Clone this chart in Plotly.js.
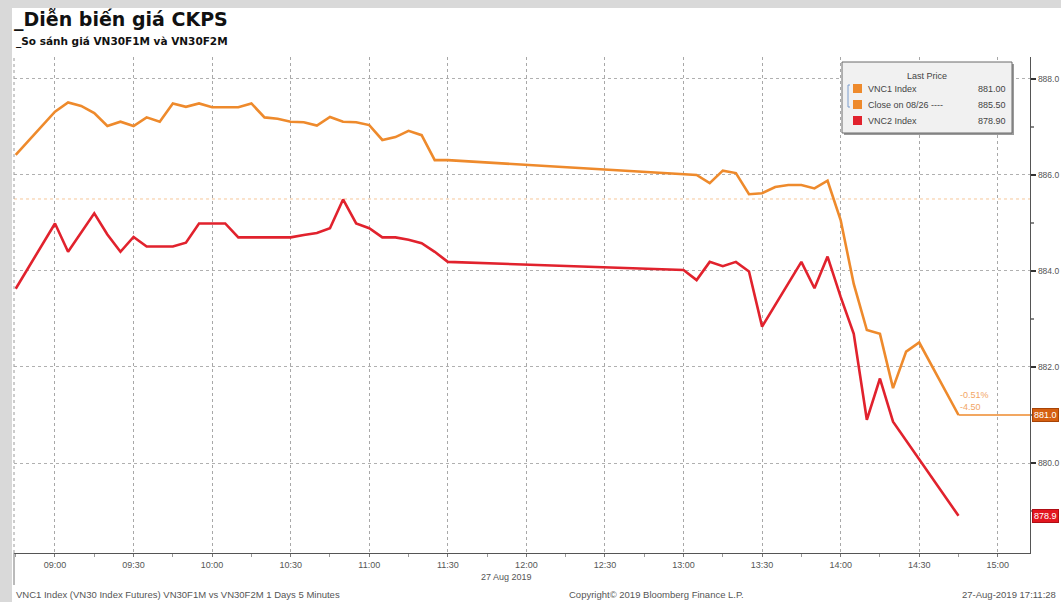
<!DOCTYPE html>
<html>
<head>
<meta charset="utf-8">
<script src="https://cdn.plot.ly/plotly-3.0.1.min.js"></script>
<style>
  html, body { margin: 0; padding: 0; background: #d9d9d9; width: 1061px; height: 602px; overflow: hidden; }
  #chart { position: absolute; left: 12px; top: 8px; width: 1049px; height: 594px; background: #ffffff; }
</style>
</head>
<body>
<div id="chart"></div>
<script>
// VNC1 (VN30F1M) intraday prices, 27 Aug 2019
const day = '2019-08-27';
const vnc1Times = ['08:45','09:00','09:05','09:10','09:15','09:20','09:25','09:30','09:35','09:40','09:45','09:50','09:55','10:00','10:10','10:15','10:20','10:25','10:30','10:35','10:40','10:45','10:50','10:55','11:00','11:05','11:10','11:15','11:20','11:25','11:30',
                   '13:00','13:05','13:10','13:15','13:20','13:25','13:30','13:35','13:40','13:45','13:50','13:55','14:00','14:05','14:10','14:15','14:20','14:25','14:30','14:45'];
const vnc1Values = [886.42,887.32,887.51,887.44,887.29,887.02,887.11,887.02,887.20,887.11,887.49,887.42,887.49,887.41,887.41,887.49,887.20,887.17,887.11,887.10,887.03,887.21,887.11,887.10,887.04,886.73,886.79,886.92,886.83,886.31,886.31,
                    886.03,886.00,885.83,886.09,886.04,885.60,885.62,885.75,885.79,885.79,885.72,885.88,885.06,883.73,882.77,882.69,881.56,882.32,882.51,881.00];

// VNC2 (VN30F2M) intraday prices
const vnc2Times = ['08:45','09:00','09:05','09:15','09:20','09:25','09:30','09:35','09:40','09:45','09:50','09:55','10:00','10:05','10:10','10:30','10:35','10:40','10:45','10:50','10:55','11:00','11:05','11:10','11:15','11:20','11:25','11:30',
                   '13:00','13:05','13:10','13:15','13:20','13:25','13:30','13:45','13:50','13:55','14:00','14:05','14:10','14:15','14:20','14:45'];
const vnc2Values = [883.63,884.99,884.40,885.20,884.76,884.40,884.71,884.51,884.51,884.51,884.59,884.99,884.99,884.99,884.70,884.70,884.75,884.79,884.89,885.49,884.99,884.89,884.70,884.70,884.65,884.58,884.40,884.19,
                    884.02,883.81,884.19,884.10,884.19,883.99,882.84,884.19,883.64,884.30,883.46,882.69,880.90,881.76,880.86,878.90];

// Previous session close of VNC1 (08/26)
const prevClose = 885.50;
const closeDateLabel = '08/26';

const seriesNames = ['VNC1 Index', 'Close on ' + closeDateLabel, 'VNC2 Index'];
const tickValues = [880, 882, 884, 886, 888];

const ORANGE = '#ee8a2c';
const RED = '#e1222d';

const toDate = t => day + ' ' + t;
const xs1 = vnc1Times.map(toDate);
const xs2 = vnc2Times.map(toDate);

const xStart = day + ' 08:44:21';
const xEnd = day + ' 15:12:18';

// page-pixel to paper conversion (plot area spans 14..1030 x 57..553 on the page)
const px = p => (p - 14) / 1016;
const py = p => (553 - p) / 496;

const last1 = vnc1Values[vnc1Values.length - 1];
const last2 = vnc2Values[vnc2Values.length - 1];
const chg = last1 - prevClose;
const chgPct = chg / prevClose * 100;

const tickFont = { family: 'Liberation Sans, Arial, sans-serif', size: 9, color: '#555' };
const legFont = { family: 'Liberation Sans, Arial, sans-serif', size: 9, color: '#444' };

const traces = [
  { x: xs2, y: vnc2Values, type: 'scatter', mode: 'lines', name: seriesNames[2],
    line: { color: RED, width: 2.6 }, hoverinfo: 'x+y' },
  { x: xs1, y: vnc1Values, type: 'scatter', mode: 'lines', name: seriesNames[0],
    line: { color: ORANGE, width: 2.6 }, hoverinfo: 'x+y' }
];

const shapes = [
  // previous close reference line
  { type: 'line', xref: 'paper', x0: 0, x1: 1, yref: 'y', y0: prevClose, y1: prevClose,
    line: { color: '#f6c79a', width: 1, dash: 'dot' }, layer: 'below' },
  // last price carried to the axis
  { type: 'line', xref: 'x', x0: xs1[xs1.length - 1], x1: xEnd, yref: 'y', y0: last1, y1: last1,
    line: { color: ORANGE, width: 1.5 } },
  // left frame (dotted) and its extension down to the footer
  { type: 'line', xref: 'paper', x0: 0, x1: 0, yref: 'paper', y0: 0, y1: 1,
    line: { color: '#9a9a9a', width: 1, dash: 'dot' } },
  { type: 'line', xref: 'paper', x0: 0, x1: 0, yref: 'paper', y0: py(585), y1: 0,
    line: { color: '#777', width: 1 } },
  // legend panel with shadow
  { type: 'rect', xref: 'paper', yref: 'paper', x0: px(844), x1: px(1014), y0: py(135), y1: py(64),
    fillcolor: '#9a9a9a', line: { width: 0 } },
  { type: 'rect', xref: 'paper', yref: 'paper', x0: px(842), x1: px(1012), y0: py(133), y1: py(62),
    fillcolor: '#f1f1f1', line: { color: '#6a6a6a', width: 1 } },
  // colour keys
  { type: 'rect', xref: 'paper', yref: 'paper', x0: px(853), x1: px(862), y0: py(93), y1: py(84),
    fillcolor: ORANGE, line: { width: 0 } },
  { type: 'rect', xref: 'paper', yref: 'paper', x0: px(853), x1: px(862), y0: py(109), y1: py(100),
    fillcolor: ORANGE, line: { width: 0 } },
  { type: 'rect', xref: 'paper', yref: 'paper', x0: px(853), x1: px(862), y0: py(125), y1: py(116),
    fillcolor: RED, line: { width: 0 } },
  // bracket grouping the first two keys
  { type: 'path', xref: 'paper', yref: 'paper',
    path: 'M ' + px(850) + ',' + py(85) + ' L ' + px(848) + ',' + py(85) + ' L ' + px(848) + ',' + py(107) + ' L ' + px(850) + ',' + py(107),
    line: { color: '#7a9ccc', width: 1 } }
];

const ann = (x, y, text, opts) => Object.assign({ xref: 'paper', yref: 'paper', x: px(x), y: py(y), text: text,
  showarrow: false, xanchor: 'left', yanchor: 'middle', font: legFont }, opts || {});

const annotations = [
  ann(14, 42, '<b>_So sánh giá VN30F1M và VN30F2M</b>', { font: { family: 'DejaVu Sans, Verdana, sans-serif', size: 10.5, color: '#111' } }),
  ann(927, 76, 'Last Price', { xanchor: 'center' }),
  ann(866, 89, seriesNames[0]),
  ann(866, 105, seriesNames[1] + ' ----'),
  ann(866, 121, seriesNames[2]),
  ann(1008, 89, last1.toFixed(2), { xanchor: 'right' }),
  ann(1008, 105, prevClose.toFixed(2), { xanchor: 'right' }),
  ann(1008, 121, last2.toFixed(2), { xanchor: 'right' }),
  // change vs previous close
  { xref: 'x', yref: 'y', x: xs1[xs1.length - 1], y: last1, xanchor: 'left', yanchor: 'bottom', yshift: 1, xshift: -1,
    text: chgPct.toFixed(2) + '%<br>' + chg.toFixed(2), showarrow: false, align: 'left',
    font: { family: 'Liberation Sans, Arial, sans-serif', size: 9, color: '#f2a565' } },
  // last price tags on the value axis
  { xref: 'paper', yref: 'y', x: 1, xshift: 2, y: last1, xanchor: 'left', yanchor: 'middle', text: last1.toFixed(1),
    showarrow: false, bgcolor: '#d55f10', bordercolor: '#a84406', borderwidth: 1, borderpad: 1,
    font: { family: 'Liberation Sans, Arial, sans-serif', size: 9, color: '#ffffff' } },
  { xref: 'paper', yref: 'y', x: 1, xshift: 2, y: last2, xanchor: 'left', yanchor: 'middle', text: last2.toFixed(1),
    showarrow: false, bgcolor: '#e2161f', bordercolor: '#b00d14', borderwidth: 1, borderpad: 1,
    font: { family: 'Liberation Sans, Arial, sans-serif', size: 9, color: '#ffffff' } },
  // date under the time axis
  ann(506, 577, '27 Aug 2019', { xanchor: 'center', font: tickFont }),
  // footer
  ann(14, 594, 'VNC1 Index (VN30 Index Futures) VN30F1M vs VN30F2M 1 Days 5 Minutes', { font: { family: 'Liberation Sans, Arial, sans-serif', size: 9.5, color: '#555' } }),
  ann(567, 594, 'Copyright© 2019 Bloomberg Finance L.P.', { font: { family: 'Liberation Sans, Arial, sans-serif', size: 9.5, color: '#555' } }),
  ann(960, 594, '27-Aug-2019 17:11:28', { font: { family: 'Liberation Sans, Arial, sans-serif', size: 9.5, color: '#555' } })
];

const layout = {
  width: 1049, height: 594,
  margin: { l: 2, r: 31, t: 49, b: 49, pad: 0 },
  paper_bgcolor: '#ffffff', plot_bgcolor: '#ffffff',
  showlegend: false,
  title: { text: '<b>_Diễn biến giá CKPS</b>', xref: 'container', yref: 'container',
    x: 2 / 1049, xanchor: 'left', y: 1 - 5 / 594, yanchor: 'top',
    font: { family: 'DejaVu Sans, Verdana, sans-serif', size: 19, color: '#111' } },
  xaxis: {
    type: 'date', range: [xStart, xEnd],
    tickformat: '%H:%M', dtick: 30 * 60 * 1000, tick0: day + ' 09:00',
    ticks: 'outside', ticklen: 3, tickcolor: '#777',
    showgrid: true, gridcolor: '#a8a8a8', griddash: 'dot', gridwidth: 1,
    showline: true, linecolor: '#555', linewidth: 1,
    tickfont: tickFont, zeroline: false,
    minor: { dtick: 15 * 60 * 1000, tick0: day + ' 09:00', ticks: 'outside', ticklen: 3, tickcolor: '#999', showgrid: false }
  },
  yaxis: {
    side: 'right', range: [878.125, 888.458],
    tickvals: tickValues, ticktext: tickValues.map(v => v.toFixed(1)),
    ticks: 'outside', ticklen: 5, tickcolor: '#333', tickwidth: 2,
    showgrid: true, gridcolor: '#b0b0b0', griddash: 'dot', gridwidth: 1,
    showline: true, linecolor: '#555', linewidth: 1.2,
    tickfont: { family: 'Liberation Sans, Arial, sans-serif', size: 8.5, color: '#555' }, zeroline: false,
    minor: { dtick: 1, tick0: 879, ticks: 'outside', ticklen: 3, tickcolor: '#888', showgrid: false }
  },
  shapes: shapes,
  annotations: annotations
};

Plotly.newPlot('chart', traces, layout, { displayModeBar: false, staticPlot: true });
</script>
</body>
</html>
